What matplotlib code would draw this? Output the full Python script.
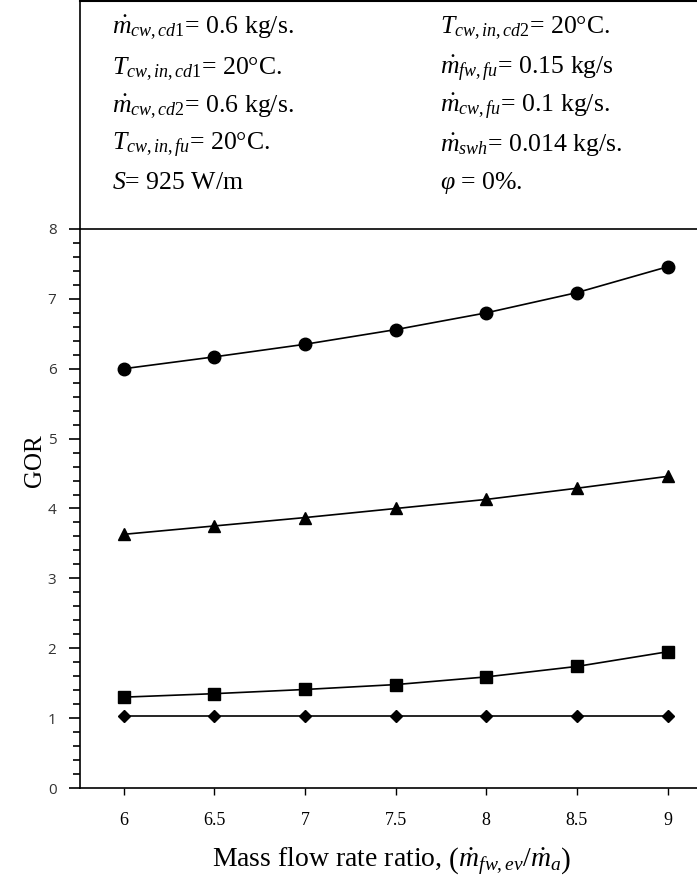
import numpy as np
import matplotlib
matplotlib.use('Agg')
import matplotlib.pyplot as plt
from matplotlib.ticker import MultipleLocator

plt.rcParams['mathtext.fontset'] = 'custom'
plt.rcParams['mathtext.rm'] = 'Liberation Serif'
plt.rcParams['mathtext.it'] = 'Liberation Serif:italic'
plt.rcParams['mathtext.bf'] = 'Liberation Serif:bold'

# data
ratio = [6, 6.5, 7, 7.5, 8, 8.5, 9]
gor_circle = [6.00, 6.17, 6.35, 6.56, 6.80, 7.09, 7.46]
gor_triangle = [3.63, 3.75, 3.87, 4.00, 4.13, 4.29, 4.46]
gor_square = [1.30, 1.35, 1.41, 1.48, 1.59, 1.74, 1.95]
gor_diamond = [1.03, 1.03, 1.03, 1.03, 1.03, 1.03, 1.03]
xticks = [6, 6.5, 7, 7.5, 8, 8.5, 9]
xlabels = ['6', '6.5', '7', '7.5', '8', '8.5', '9']

params_left = [r'$\dot{m}_{cw,cd1}$= 0.6 kg/s.', r'$T_{cw,in,cd1}$= 20°C.',
               r'$\dot{m}_{cw,cd2}$= 0.6 kg/s.', r'$T_{cw,in,fu}$= 20°C.',
               r'$S$= 925 W/m']
params_right = [r'$T_{cw,in,cd2}$= 20°C.', r'$\dot{m}_{fw,fu}$= 0.15 kg/s',
                r'$\dot{m}_{cw,fu}$= 0.1 kg/s.', r'$\dot{m}_{swh}$= 0.014 kg/s.',
                r'$\varphi$ = 0%.']

W, H = 697, 890
fig = plt.figure(figsize=(W/100, H/100), dpi=100)
ax = fig.add_axes([80/W, (H-788)/H, (W-80)/W + 0.01, (788-229)/H])

kw = dict(color='black', lw=1.2, mec='black', mfc='black')
ax.plot(ratio, gor_circle, marker='o', ms=9, **kw)
ax.plot(ratio, gor_triangle, marker='^', ms=8.5, **kw)
ax.plot(ratio, gor_square, marker='s', ms=9, **kw)
ax.plot(ratio, gor_diamond, marker='D', ms=6, **kw)

ax.set_xlim(5.76, 9.2); ax.set_ylim(0, 8)
ax.spines['right'].set_visible(False)
for s in ('left', 'bottom', 'top'):
    ax.spines[s].set_linewidth(1.2)
ax.set_xticks(xticks)
ax.set_xticklabels(xlabels, family='Liberation Serif', fontsize=13)
ax.yaxis.set_major_locator(MultipleLocator(1))
ax.yaxis.set_minor_locator(MultipleLocator(0.2))
ax.tick_params(axis='x', direction='out', length=5, width=1, pad=12)
ax.tick_params(axis='y', which='major', direction='out', length=8, width=1.2,
               labelsize=11, labelcolor='#333333', pad=9)
ax.tick_params(axis='y', which='minor', direction='out', length=5, width=1.2)
for t in ax.get_yticklabels():
    t.set_family('Open Sans')

ax.set_ylabel('GOR', family='Liberation Serif', fontsize=18)
ax.yaxis.set_label_coords(-0.055, 0.585)
ax.set_xlabel(r'Mass flow rate ratio, $\left(\dot{m}_{fw,ev}/\dot{m}_a\right)$',
              family='Liberation Serif', fontsize=20, labelpad=12)

# parameter box on top
fig.add_artist(plt.Line2D([80/W, 80/W], [(H-229)/H, (H-1)/H], color='black', lw=1.2))
fig.add_artist(plt.Line2D([80/W, 1], [(H-1)/H, (H-1)/H], color='black', lw=1.5))
rows_y = [28, 69, 107, 145, 183]
for yy, tl, tr in zip(rows_y, params_left, params_right):
    fig.text(112/W, (H-yy)/H, tl, family='Liberation Serif', fontsize=18.5, va='center')
    fig.text(440/W, (H-yy)/H, tr, family='Liberation Serif', fontsize=18.5, va='center')

fig.savefig('out.png', dpi=100)
